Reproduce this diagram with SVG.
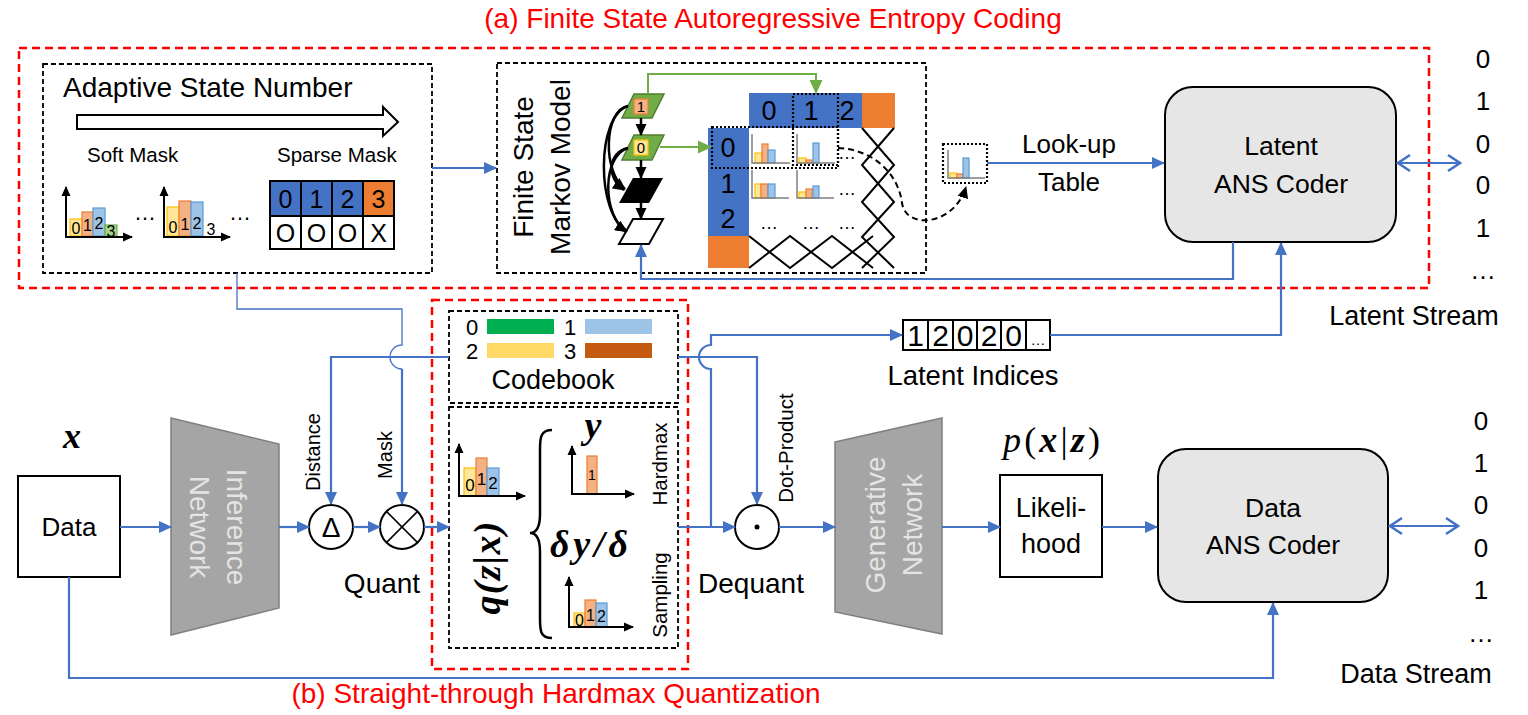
<svg xmlns="http://www.w3.org/2000/svg" width="1528" height="715" viewBox="0 0 1528 715">
<defs>
<style>
.sans{font-family:"Liberation Sans",Arial,sans-serif;fill:#000}
.serif{font-family:"Liberation Serif","Times New Roman",serif;fill:#000}
.mid{text-anchor:middle}
.blue{stroke:#4472C4;stroke-width:2.2;fill:none}
.thin{stroke:#4472C4;stroke-width:1.3;fill:none}
.red{stroke:#FF0000;stroke-width:2.5;stroke-dasharray:8 5;fill:none}
.dash{stroke:#000;stroke-width:1.8;stroke-dasharray:5 3;fill:none}
.dot{stroke:#000;stroke-width:2.2;stroke-dasharray:2 2;fill:none}
.ax{stroke:#000;stroke-width:2;fill:none}
.gax{stroke:#7F7F7F;stroke-width:1.5;fill:none}
.blk{stroke:#000;stroke-width:2.5;fill:none}
.lat{stroke:#000;stroke-width:2;fill:none}
.by{fill:#FFE699;stroke:#FFC000;stroke-width:1.2}
.bo{fill:#F4B183;stroke:#ED7D31;stroke-width:1.2}
.bb{fill:#9DC3E6;stroke:#5B9BD5;stroke-width:1.2}
.bg{fill:#A9D18E;stroke:#70AD47;stroke-width:1.2}
.cell{stroke:#000;stroke-width:2}
.coder{fill:#E7E6E6;stroke:#000;stroke-width:2}
.net{fill:#A5A5A5;stroke:#7F7F7F;stroke-width:1.5}
.nett{font-family:"Liberation Sans",Arial,sans-serif;fill:#E4E4E4;font-size:28px;text-anchor:middle}
.caption{font-family:"Liberation Sans",Arial,sans-serif;fill:#FF0000;font-size:28px}
</style>
<marker id="ab" markerUnits="userSpaceOnUse" markerWidth="13" markerHeight="13" viewBox="0 0 13 13" refX="12" refY="6.5" orient="auto"><path d="M0,0.5 L13,6.5 L0,12.5 z" fill="#4472C4"/></marker>
<marker id="ak" markerUnits="userSpaceOnUse" markerWidth="12" markerHeight="12" viewBox="0 0 12 12" refX="11" refY="6" orient="auto"><path d="M0,0.5 L12,6 L0,11.5 z" fill="#000"/></marker>
<marker id="as" markerUnits="userSpaceOnUse" markerWidth="10" markerHeight="10" viewBox="0 0 10 10" refX="9" refY="5" orient="auto"><path d="M0,0.5 L10,5 L0,9.5 z" fill="#000"/></marker>
<marker id="ag" markerUnits="userSpaceOnUse" markerWidth="14" markerHeight="14" viewBox="0 0 14 14" refX="13" refY="7" orient="auto"><path d="M0,0.5 L14,7 L0,13.5 z" fill="#70AD47"/></marker>
<marker id="chev" markerUnits="userSpaceOnUse" markerWidth="16" markerHeight="20" viewBox="0 0 16 20" refX="14" refY="10" orient="auto-start-reverse"><path d="M2,2 L14,10 L2,18" fill="none" stroke="#4472C4" stroke-width="2.5"/></marker>
</defs>
<rect width="1528" height="715" fill="#fff"/>

<!-- section frames and captions -->
<g id="frame-a">
<rect class="red" x="19" y="48" width="1410" height="240"/>
<text class="caption mid" x="773" y="28">(a) Finite State Autoregressive Entropy Coding</text>
</g>
<g id="frame-b">
<rect class="red" x="432" y="300" width="256" height="369"/>
<text class="caption mid" x="556" y="703">(b) Straight-through Hardmax Quantization</text>
</g>

<!-- Adaptive State Number -->
<g id="adaptive-state">
<rect class="dash" x="43" y="64" width="389" height="209"/>
<text class="sans" x="63" y="97" font-size="28">Adaptive State Number</text>
<polygon points="77,115 383,115 383,107 398,122 383,136 383,129 77,129" fill="#fff" stroke="#000" stroke-width="2"/>
<text class="sans" x="87" y="162" font-size="20.5">Soft Mask</text>
<text class="sans" x="277" y="162" font-size="20.5">Sparse Mask</text>
<rect class="by" x="70" y="219" width="12" height="17"/>
<rect class="bo" x="82" y="212" width="11" height="24"/>
<rect class="bb" x="93" y="208" width="12" height="28"/>
<rect class="bg" x="105" y="225" width="12" height="11"/>
<line class="ax" x1="66" y1="237" x2="66" y2="187" marker-end="url(#as)"/>
<line class="ax" x1="65" y1="237" x2="132" y2="237" marker-end="url(#as)"/>
<text class="sans mid" x="76" y="234" font-size="16">0</text>
<text class="sans mid" x="87.5" y="231" font-size="16">1</text>
<text class="sans mid" x="99" y="229" font-size="16">2</text>
<text class="sans mid" x="111" y="237" font-size="16">3</text>
<text class="sans mid" x="145" y="220" font-size="22">…</text>
<rect class="by" x="167" y="207" width="12" height="29"/>
<rect class="bo" x="179" y="201" width="12" height="35"/>
<rect class="bb" x="191" y="202" width="12" height="34"/>
<line class="ax" x1="164" y1="237" x2="164" y2="187" marker-end="url(#as)"/>
<line class="ax" x1="163" y1="237" x2="230" y2="237" marker-end="url(#as)"/>
<text class="sans mid" x="173" y="233" font-size="16">0</text>
<text class="sans mid" x="185" y="230" font-size="16">1</text>
<text class="sans mid" x="197" y="229" font-size="16">2</text>
<text class="sans mid" x="211" y="235" font-size="16">3</text>
<text class="sans mid" x="240" y="220" font-size="22">…</text>
<rect class="cell" x="270" y="181" width="31" height="35" fill="#4472C4"/>
<rect class="cell" x="301" y="181" width="31" height="35" fill="#4472C4"/>
<rect class="cell" x="332" y="181" width="31" height="35" fill="#4472C4"/>
<rect class="cell" x="363" y="181" width="31" height="35" fill="#ED7D31"/>
<rect class="cell" x="270" y="216" width="31" height="33" fill="#fff"/>
<rect class="cell" x="301" y="216" width="31" height="33" fill="#fff"/>
<rect class="cell" x="332" y="216" width="31" height="33" fill="#fff"/>
<rect class="cell" x="363" y="216" width="31" height="33" fill="#fff"/>
<text class="sans mid" x="285.5" y="208" font-size="25">0</text>
<text class="sans mid" x="316.5" y="208" font-size="25">1</text>
<text class="sans mid" x="347.5" y="208" font-size="25">2</text>
<text class="sans mid" x="378.5" y="208" font-size="25">3</text>
<text class="sans mid" x="285.5" y="242" font-size="25">O</text>
<text class="sans mid" x="316.5" y="242" font-size="25">O</text>
<text class="sans mid" x="347.5" y="242" font-size="25">O</text>
<text class="sans mid" x="378.5" y="242" font-size="25">X</text>
</g>

<!-- Finite State Markov Model -->
<g id="markov-model">
<rect class="dash" x="497" y="63" width="429" height="210"/>
<text class="sans mid" font-size="28" transform="translate(533,167) rotate(-90)">Finite State</text>
<text class="sans mid" font-size="28" transform="translate(570,167) rotate(-90)">Markov Model</text>
<polygon points="634,94 664,94 652,118 622,118" fill="#70AD47" stroke="#507E32" stroke-width="1.5"/>
<rect x="634" y="99" width="14" height="15" fill="#F4B183" stroke="#ED7D31" stroke-width="1.2"/>
<text class="sans mid" x="641" y="112" font-size="15">1</text>
<polygon points="634,135 664,135 652,160 622,160" fill="#70AD47" stroke="#507E32" stroke-width="1.5"/>
<rect x="634" y="140" width="14" height="15" fill="#FFE699" stroke="#FFC000" stroke-width="1.2"/>
<text class="sans mid" x="641" y="153" font-size="15">0</text>
<polygon points="633,178 663,178 649,203 619,203" fill="#000"/>
<polygon points="633,219 663,219 649,244 619,244" fill="#fff" stroke="#000" stroke-width="2"/>
<line class="blk" x1="641" y1="118" x2="641" y2="135" marker-end="url(#ak)"/>
<line class="blk" x1="641" y1="160" x2="641" y2="178" marker-end="url(#ak)"/>
<line class="blk" x1="641" y1="203" x2="641" y2="219" marker-end="url(#ak)"/>
<path class="blk" d="M628,106 C604,110 602,172 625,189" marker-end="url(#ak)"/>
<path class="blk" d="M628,106 C596,116 596,214 627,231" marker-end="url(#ak)"/>
<path class="blk" d="M628,148 C608,152 606,178 624,190" marker-end="url(#ak)"/>
<path class="blk" d="M628,148 C602,156 602,214 626,232" marker-end="url(#ak)"/>
<!-- table -->
<rect x="749" y="93" width="113" height="35" fill="#4472C4"/>
<rect x="862" y="93" width="33" height="35" fill="#ED7D31"/>
<rect x="708" y="128" width="41" height="108" fill="#4472C4"/>
<rect x="708" y="236" width="41" height="32" fill="#ED7D31"/>
<text class="sans mid" x="769" y="120" font-size="27">0</text>
<text class="sans mid" x="811" y="120" font-size="27">1</text>
<text class="sans mid" x="847" y="120" font-size="27">2</text>
<text class="sans mid" x="728" y="157" font-size="27">0</text>
<text class="sans mid" x="728" y="193" font-size="27">1</text>
<text class="sans mid" x="728" y="228" font-size="27">2</text>
<rect class="by" x="755" y="153" width="7" height="10"/>
<rect class="bo" x="762" y="144" width="6" height="19"/>
<rect class="bb" x="768" y="150" width="7" height="13"/>
<polyline class="gax" points="752,134 752,163 790,163"/>
<rect class="by" x="799" y="158" width="7" height="5"/>
<rect class="bo" x="806" y="160" width="6" height="3"/>
<rect class="bb" x="813" y="143" width="6" height="20"/>
<polyline class="gax" points="797,134 797,163 835,163"/>
<rect class="by" x="755" y="184" width="6" height="14"/>
<rect class="bo" x="761" y="184" width="7" height="14"/>
<rect class="bb" x="768" y="184" width="7" height="14"/>
<polyline class="gax" points="752,170 752,198 789,198"/>
<rect class="by" x="799" y="192" width="7" height="6"/>
<rect class="bo" x="806" y="189" width="6" height="9"/>
<rect class="bb" x="813" y="186" width="6" height="12"/>
<polyline class="gax" points="797,170 797,198 834,198"/>
<text class="sans mid" x="847" y="159" font-size="18">…</text>
<text class="sans mid" x="847" y="195" font-size="18">…</text>
<text class="sans mid" x="769" y="229" font-size="18">…</text>
<text class="sans mid" x="811" y="229" font-size="18">…</text>
<text class="sans mid" x="847" y="229" font-size="18">…</text>
<polyline class="lat" points="862,128 894,165 862,202 894,237 862,268"/>
<polyline class="lat" points="894,128 862,165 894,202 862,237 894,268"/>
<polyline class="lat" points="749,236 790,268 832,236 873,268"/>
<polyline class="lat" points="749,268 790,236 832,268 873,236"/>
<rect class="dot" x="793" y="94" width="45" height="71"/>
<rect class="dot" x="712" y="127" width="126" height="41"/>
<path d="M838,148 C878,150 899,178 902,203 C906,230 954,226 966,187" fill="none" stroke="#000" stroke-width="2" stroke-dasharray="6 4" marker-end="url(#ak)"/>
</g>

<!-- looked-up distribution -->
<g id="lookup-dist">
<rect class="dot" x="943" y="144" width="44" height="39"/>
<rect class="by" x="950" y="173" width="7" height="5"/>
<rect class="bo" x="957" y="174" width="6" height="4"/>
<rect class="bb" x="963" y="158" width="6" height="20"/>
<polyline class="gax" points="948,150 948,178 985,178"/>
<text class="sans mid" x="1069" y="153" font-size="26">Look-up</text>
<text class="sans mid" x="1069" y="191" font-size="26">Table</text>
</g>

<!-- Latent ANS coder -->
<g id="latent-ans">
<rect class="coder" x="1165" y="87" width="231" height="155" rx="28"/>
<text class="sans mid" x="1281" y="155" font-size="26.5">Latent</text>
<text class="sans mid" x="1281" y="193" font-size="26.5">ANS Coder</text>
</g>
<g id="latent-stream">
<text class="sans mid" x="1483" y="68" font-size="26">0</text>
<text class="sans mid" x="1483" y="110" font-size="26">1</text>
<text class="sans mid" x="1483" y="153" font-size="26">0</text>
<text class="sans mid" x="1483" y="194" font-size="26">0</text>
<text class="sans mid" x="1483" y="237" font-size="26">1</text>
<text class="sans mid" x="1483" y="279" font-size="26">…</text>
<text class="sans mid" x="1414" y="325" font-size="27">Latent Stream</text>
</g>

<!-- Codebook -->
<g id="codebook">
<rect class="dash" x="449" y="311" width="229" height="92"/>
<text class="sans mid" x="472" y="335" font-size="22">0</text>
<rect x="487" y="319" width="67" height="15" fill="#00B050"/>
<text class="sans mid" x="570" y="335" font-size="22">1</text>
<rect x="585" y="319" width="67" height="15" fill="#9DC3E6"/>
<text class="sans mid" x="472" y="359" font-size="22">2</text>
<rect x="487" y="343" width="67" height="15" fill="#FFD966"/>
<text class="sans mid" x="570" y="359" font-size="22">3</text>
<rect x="585" y="343" width="67" height="15" fill="#C55A11"/>
<text class="sans mid" x="553" y="389" font-size="27">Codebook</text>
</g>

<!-- Hardmax quantizer -->
<g id="hardmax">
<rect class="dash" x="449" y="407" width="229" height="241"/>
<rect class="by" x="464" y="468" width="12" height="28"/>
<rect class="bo" x="476" y="458" width="11" height="38"/>
<rect class="bb" x="487" y="468" width="12" height="28"/>
<line class="ax" x1="459" y1="497" x2="459" y2="444" marker-end="url(#as)"/>
<line class="ax" x1="458" y1="496" x2="525" y2="496" marker-end="url(#as)"/>
<text class="sans mid" x="470" y="491" font-size="17">0</text>
<text class="sans mid" x="481.5" y="485" font-size="17">1</text>
<text class="sans mid" x="493" y="489" font-size="17">2</text>
<text class="serif mid" font-size="38" font-weight="bold" font-style="italic" textLength="93" transform="translate(500,568) rotate(-90)">q(z|x)</text>
<path class="blk" d="M552,430 C541,430 540,437 540,449 L540,514 C540,527 536,533 530,533 C536,533 540,539 540,552 L540,619 C540,632 541,638 552,638"/>
<text class="serif mid" x="593" y="438" font-size="38" font-weight="bold" font-style="italic">y</text>
<rect class="bo" x="587" y="456" width="10" height="38"/>
<line class="ax" x1="572" y1="495" x2="572" y2="446" marker-end="url(#as)"/>
<line class="ax" x1="571" y1="494" x2="634" y2="494" marker-end="url(#as)"/>
<text class="sans mid" x="592" y="480" font-size="14">1</text>
<text class="sans mid" font-size="20.5" transform="translate(667,464) rotate(-90)">Hardmax</text>
<text class="serif mid" x="589" y="557" font-size="38" font-weight="bold" font-style="italic" textLength="78">δy/δ</text>
<rect class="by" x="574" y="613" width="11" height="14"/>
<rect class="bo" x="585" y="600" width="11" height="27"/>
<rect class="bb" x="596" y="603" width="11" height="24"/>
<line class="ax" x1="569" y1="628" x2="569" y2="577" marker-end="url(#as)"/>
<line class="ax" x1="568" y1="627" x2="633" y2="627" marker-end="url(#as)"/>
<text class="sans mid" x="579.5" y="626" font-size="16">0</text>
<text class="sans mid" x="590.5" y="621" font-size="16">1</text>
<text class="sans mid" x="601.5" y="622" font-size="16">2</text>
<text class="sans mid" font-size="20.5" transform="translate(667,595) rotate(-90)">Sampling</text>
</g>

<!-- Data -->
<g id="data">
<text class="serif mid" x="72" y="448" font-size="36" font-weight="bold" font-style="italic">x</text>
<rect x="18" y="476" width="102" height="101" fill="#fff" stroke="#000" stroke-width="2"/>
<text class="sans mid" x="69" y="536" font-size="26">Data</text>
</g>

<!-- Inference network -->
<g id="inference-net">
<polygon class="net" points="171,418 279,444 279,608 171,635"/>
<text class="nett" transform="translate(227,527) rotate(90)">Inference</text>
<text class="nett" transform="translate(190,527) rotate(90)">Network</text>
</g>

<!-- Quant operators -->
<g id="distance-op">
<circle cx="331" cy="527" r="22" fill="#fff" stroke="#000" stroke-width="2"/>
<text class="sans mid" x="331" y="537" font-size="28">Δ</text>
<text class="sans mid" font-size="20" transform="translate(320,452) rotate(-90)">Distance</text>
</g>
<g id="mask-op">
<circle cx="402" cy="527" r="22" fill="#fff" stroke="#000" stroke-width="2"/>
<line x1="386.4" y1="511.4" x2="417.6" y2="542.6" stroke="#000" stroke-width="1.5"/>
<line x1="386.4" y1="542.6" x2="417.6" y2="511.4" stroke="#000" stroke-width="1.5"/>
<text class="sans mid" font-size="20" transform="translate(392,455) rotate(-90)">Mask</text>
<text class="sans mid" x="382" y="593" font-size="28">Quant</text>
</g>

<!-- Dequant -->
<g id="dequant-op">
<circle cx="757" cy="527" r="22" fill="#fff" stroke="#000" stroke-width="2"/>
<circle cx="757" cy="527" r="2.5" fill="#000"/>
<text class="sans mid" font-size="20.5" transform="translate(793,448) rotate(-90)">Dot-Product</text>
<text class="sans mid" x="751" y="593" font-size="28">Dequant</text>
</g>

<!-- Latent indices -->
<g id="latent-indices">
<rect class="cell" x="903" y="320" width="25" height="30" fill="#fff"/>
<rect class="cell" x="928" y="320" width="25" height="30" fill="#fff"/>
<rect class="cell" x="953" y="320" width="24" height="30" fill="#fff"/>
<rect class="cell" x="977" y="320" width="24" height="30" fill="#fff"/>
<rect class="cell" x="1001" y="320" width="25" height="30" fill="#fff"/>
<rect class="cell" x="1026" y="320" width="24" height="30" fill="#fff"/>
<text class="sans mid" x="915.5" y="346" font-size="30">1</text>
<text class="sans mid" x="940.5" y="346" font-size="30">2</text>
<text class="sans mid" x="965" y="346" font-size="30">0</text>
<text class="sans mid" x="989" y="346" font-size="30">2</text>
<text class="sans mid" x="1013.5" y="346" font-size="30">0</text>
<text class="sans mid" x="1038" y="345" font-size="15">…</text>
<text class="sans mid" x="973" y="385" font-size="27.5">Latent Indices</text>
</g>

<!-- Generative network -->
<g id="generative-net">
<polygon class="net" points="835,442 942,418 942,634 835,612"/>
<text class="nett" transform="translate(885,525) rotate(-90)">Generative</text>
<text class="nett" transform="translate(922,525) rotate(-90)">Network</text>
</g>

<!-- Likelihood -->
<g id="likelihood">
<text class="serif" x="1003" y="452" font-size="36" textLength="97"><tspan font-style="italic">p</tspan>(<tspan font-weight="bold" font-style="italic">x</tspan>|<tspan font-weight="bold" font-style="italic">z</tspan>)</text>
<rect x="1000" y="475" width="102" height="102" fill="#fff" stroke="#000" stroke-width="2"/>
<text class="sans mid" x="1051" y="517" font-size="27">Likeli-</text>
<text class="sans mid" x="1051" y="553" font-size="27">hood</text>
</g>

<!-- Data ANS coder -->
<g id="data-ans">
<rect class="coder" x="1158" y="449" width="230" height="153" rx="28"/>
<text class="sans mid" x="1273" y="517" font-size="26.5">Data</text>
<text class="sans mid" x="1273" y="554" font-size="26.5">ANS Coder</text>
</g>
<g id="data-stream">
<text class="sans mid" x="1481" y="430" font-size="26">0</text>
<text class="sans mid" x="1481" y="472" font-size="26">1</text>
<text class="sans mid" x="1481" y="514" font-size="26">0</text>
<text class="sans mid" x="1481" y="557" font-size="26">0</text>
<text class="sans mid" x="1481" y="599" font-size="26">1</text>
<text class="sans mid" x="1481" y="642" font-size="26">…</text>
<text class="sans mid" x="1416" y="683" font-size="27">Data Stream</text>
</g>

<!-- connectors -->
<g id="connectors">
<line class="blue" x1="432" y1="168" x2="496" y2="168" stroke-width="1.6" marker-end="url(#ab)"/>
<polyline points="648,94 648,74 816,74 816,93" fill="none" stroke="#70AD47" stroke-width="2" marker-end="url(#ag)"/>
<line x1="660" y1="147" x2="711" y2="147" stroke="#70AD47" stroke-width="2" marker-end="url(#ag)"/>
<polyline class="blue" points="1233,242 1233,279 641,279 641,245" marker-end="url(#ab)"/>
<line class="blue" x1="987" y1="163" x2="1164" y2="163" marker-end="url(#ab)"/>
<line class="blue" x1="1398" y1="163" x2="1460" y2="163" stroke-width="2.5" marker-start="url(#chev)" marker-end="url(#chev)"/>
<path class="thin" d="M237,273 L237,309 L402,309 L402,345 A12,12 0 0 0 402,369"/>
<line class="blue" x1="402" y1="369" x2="402" y2="504" marker-end="url(#ab)"/>
<polyline class="blue" points="449,357 331,357 331,504" marker-end="url(#ab)"/>
<line class="blue" x1="120" y1="527" x2="171" y2="527" marker-end="url(#ab)"/>
<line class="blue" x1="279" y1="527" x2="309" y2="527" marker-end="url(#ab)"/>
<line class="blue" x1="353" y1="527" x2="380" y2="527" marker-end="url(#ab)"/>
<line class="blue" x1="424" y1="527" x2="449" y2="527" marker-end="url(#ab)"/>
<polyline class="blue" points="678,357 757,357 757,504" marker-end="url(#ab)"/>
<line class="blue" x1="678" y1="527" x2="735" y2="527" marker-end="url(#ab)"/>
<path class="blue" d="M711,527 L711,369 A12,12 0 0 1 711,345 L711,335 L902,335" marker-end="url(#ab)"/>
<polyline class="blue" points="1050,335 1281,335 1281,243" marker-end="url(#ab)"/>
<line class="blue" x1="779" y1="527" x2="835" y2="527" marker-end="url(#ab)"/>
<line class="blue" x1="942" y1="527" x2="1000" y2="527" marker-end="url(#ab)"/>
<line class="blue" x1="1102" y1="527" x2="1157" y2="527" marker-end="url(#ab)"/>
<line class="blue" x1="1390" y1="526" x2="1458" y2="526" stroke-width="2.5" marker-start="url(#chev)" marker-end="url(#chev)"/>
<polyline class="blue" points="69,577 69,678 1273,678 1273,603" marker-end="url(#ab)"/>
</g>
</svg>
